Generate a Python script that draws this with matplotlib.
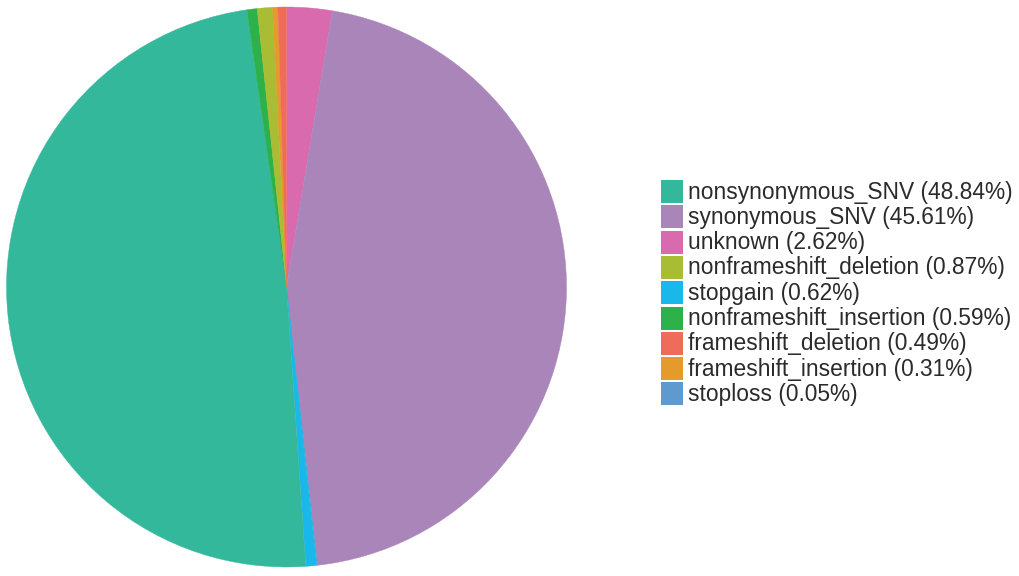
import matplotlib
matplotlib.use("Agg")
import matplotlib.pyplot as plt
from matplotlib.patches import Rectangle

plt.rcParams['font.family'] = ['Liberation Sans', 'DejaVu Sans']

# legend order (as in the reference)
categories = ["nonsynonymous_SNV", "synonymous_SNV", "unknown",
              "nonframeshift_deletion", "stopgain", "nonframeshift_insertion",
              "frameshift_deletion", "frameshift_insertion", "stoploss"]
percents = [48.84, 45.61, 2.62, 0.87, 0.62, 0.59, 0.49, 0.31, 0.05]
colors = ["#34B89C", "#A985B9", "#D96AAE", "#A8BC34", "#1AB8EA",
          "#2DB24B", "#F06C5A", "#E59A2C", "#5E9AD0"]

# slices are drawn clockwise from 12 o'clock in reverse alphabetical order
pie_order = sorted(range(len(categories)), key=lambda i: categories[i], reverse=True)

fig = plt.figure(figsize=(10.2, 5.76), dpi=100)
W, H = 1020, 576

# legend layer in pixel coordinates (top-left origin)
lax = fig.add_axes([0, 0, 1, 1])
lax.set_xlim(0, W)
lax.set_ylim(H, 0)
lax.axis("off")

cx, cy, r = 286.5, 576 - 287, 280
ax = fig.add_axes([(cx - r) / W, (cy - r) / H, 2 * r / W, 2 * r / H])
wedges, _ = ax.pie([percents[i] for i in pie_order],
                   colors=[colors[i] for i in pie_order],
                   startangle=90, counterclock=False, radius=1)
for w in wedges:
    w.set_edgecolor(w.get_facecolor())
    w.set_linewidth(0.3)
ax.set_xlim(-1, 1)
ax.set_ylim(-1, 1)
ax.set_aspect("equal")
ax.axis("off")

row_h = 25.3
for i, (name, p, c) in enumerate(zip(categories, percents, colors)):
    top = 180 + i * row_h
    lax.add_patch(Rectangle((661.5, top), 22, 23, facecolor=c, edgecolor="none"))
    lax.text(688, top + 12, f"{name} ({p:.2f}%)", fontsize=16.4,
             va="center", ha="left", color="#2b2b2b")

fig.savefig("out.png", dpi=100)
